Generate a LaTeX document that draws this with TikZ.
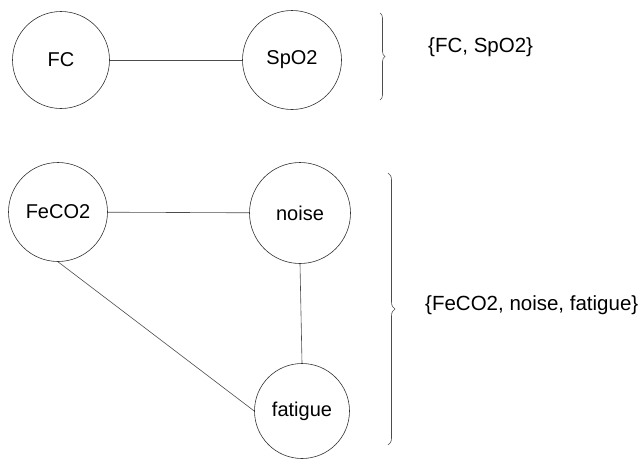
\documentclass[tikz,border=0pt]{standalone}
\usepackage{fontspec}
\setmainfont{Liberation Sans}
\usetikzlibrary{decorations.pathreplacing}
\begin{document}
\begin{tikzpicture}[x=1pt,y=-1pt,
  vert/.style={circle,draw=black!80,line width=0.6pt,inner sep=0pt,font=\fontsize{20}{24}\selectfont},
  edge/.style={draw=black!70,line width=0.6pt},
  setlabel/.style={font=\fontsize{20.5}{24}\selectfont,inner sep=0pt,anchor=west},
  bracestyle/.style={draw=black!70,line width=0.6pt,decorate}]
\useasboundingbox (0,0) rectangle (642,458);
\node[vert,minimum size=97pt] (FC) at (61,60) {FC};
\node[vert,minimum size=99pt] (SpO2) at (292,60) {SpO2};
\node[vert,minimum size=99pt] (FeCO2) at (58,212) {FeCO2};
\node[vert,minimum size=101pt] (noise) at (300,213) {noise};
\node[vert,minimum size=95pt] (fatigue) at (302,411) {fatigue};
\draw[edge] (FC) -- (SpO2);
\draw[edge] (FeCO2) -- (noise);
\draw[edge] (noise.south) -- (fatigue.north);
\draw[edge] (FeCO2.south) -- (fatigue.west);
\coordinate (b1t) at (380,13);
\coordinate (b1b) at (380,100);
\coordinate (b2t) at (388,173);
\coordinate (b2b) at (388,445);
\draw[bracestyle,decoration={brace,amplitude=5pt}] (b1t) -- (b1b);
\draw[bracestyle,decoration={brace,amplitude=7pt}] (b2t) -- (b2b);
\node[setlabel] (s1) at (428,47) {\{FC, SpO2\}};
\node[setlabel] (s2) at (425,305) {\{FeCO2, noise, fatigue\}};
\end{tikzpicture}
\end{document}
